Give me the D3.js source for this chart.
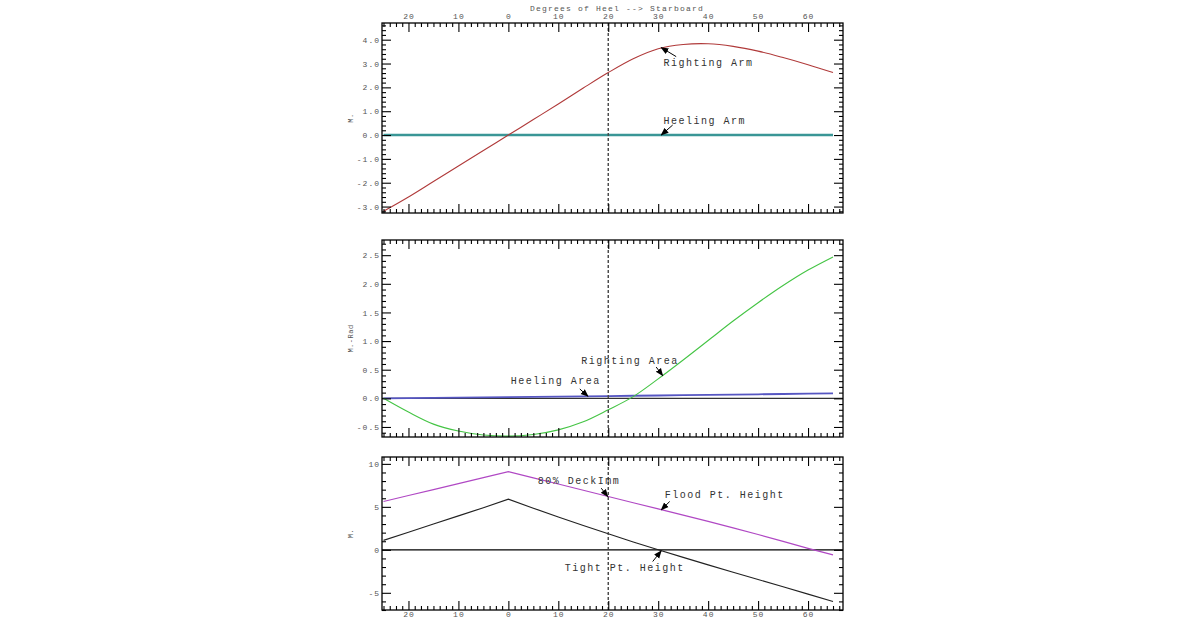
<!DOCTYPE html>
<html>
<head>
<meta charset="utf-8">
<script src="https://cdn.jsdelivr.net/npm/d3@7"></script>
<style>
  body { margin: 0; background: #fff; }
  svg { display: block; }
</style>
</head>
<body>
<div id="stability"></div>
<script>
// stability curves: arms, areas and point heights vs heel angle

// heel angle (deg), negative = port
const heel = [-25, -20, -15, -10, -5, 0, 5, 10, 15, 20, 25, 30, 35, 40, 45, 50, 55, 60, 65];

// top panel (M.)
const rightingArm = [-3.2, -2.6, -1.95, -1.3, -0.65, 0, 0.65, 1.3, 1.97, 2.62, 3.2, 3.62, 3.8, 3.83, 3.72, 3.52, 3.25, 2.95, 2.62];
const heelingArm  = [0, 0, 0, 0, 0, 0, 0, 0, 0, 0, 0, 0, 0, 0, 0, 0, 0, 0, 0];

// middle panel (M.-Rad)
const rightingArea = [0, -0.24, -0.45, -0.57, -0.64, -0.66, -0.63, -0.55, -0.41, -0.2, 0.03, 0.34, 0.67, 1.01, 1.35, 1.67, 1.97, 2.24, 2.47];
const heelingArea  = [0, 0.004, 0.008, 0.012, 0.016, 0.02, 0.024, 0.029, 0.034, 0.04, 0.045, 0.05, 0.055, 0.06, 0.066, 0.071, 0.076, 0.082, 0.087];

// bottom panel (M.)
const floodPtHeight = [5.62, 6.32, 7.0, 7.7, 8.4, 9.1, 8.38, 7.66, 6.93, 6.2, 5.48, 4.76, 4.04, 3.32, 2.55, 1.78, 0.98, 0.17, -0.58];
const tightPtHeight = [1.1, 2.05, 3.0, 3.95, 4.9, 5.9, 4.85, 3.82, 2.82, 1.86, 0.92, 0, -0.88, -1.75, -2.6, -3.45, -4.3, -5.15, -6.0];

// deck immersion angle (dashed line)
const deckImmAngle = 20;

// axis ticks
const xTicks = [-20, -10, 0, 10, 20, 30, 40, 50, 60];
const yTicksArm  = [-3, -2, -1, 0, 1, 2, 3, 4];
const yTicksArea = [-0.5, 0, 0.5, 1, 1.5, 2, 2.5];
const yTicksHgt  = [-5, 0, 5, 10];

// labels with arrows: text position and arrow tail/tip in data units
const armNotes = [
  { text: "Righting Arm", x: 31.05, y: 3.04, x1: 33.6, y1: 3.29, x2: 30.6, y2: 3.67 },
  { text: "Heeling Arm",  x: 31.05, y: 0.63, x1: 32.9, y1: 0.42, x2: 30.6, y2: 0 }
];
const areaNotes = [
  { text: "Righting Area", x: 14.6, y: 0.657, x1: 29.6, y1: 0.547, x2: 30.9, y2: 0.395 },
  { text: "Heeling Area",  x: 0.5,  y: 0.314, x1: 14.3, y1: 0.164, x2: 15.95, y2: 0.035 }
];
const hgtNotes = [
  { text: "80% DeckImm",      x: 5.9,  y: 8.02,  x1: 18.6, y1: 7.17,  x2: 19.9, y2: 6.2 },
  { text: "Flood Pt. Height", x: 31.3, y: 6.4,   x1: 32.3, y1: 5.62,  x2: 30.6, y2: 4.65 },
  { text: "Tight Pt. Height", x: 11.3, y: -2.01, x1: 28.9, y1: -1.36, x2: 30.6, y2: -0.12 }
];

const fontFamily = "'Liberation Mono', 'DejaVu Sans Mono', monospace";
const tickColor = "#555";

const width = 1200, height = 620;
const left = 382, right = 843;

const svg = d3.select("#stability")
  .append("svg")
  .attr("width", width)
  .attr("height", height);

svg.append("rect").attr("width", width).attr("height", height).attr("fill", "white");

// arrow head
svg.append("defs").append("marker")
  .attr("id", "arrow")
  .attr("viewBox", "0 0 10 10")
  .attr("refX", 9).attr("refY", 5)
  .attr("markerWidth", 8).attr("markerHeight", 8)
  .attr("markerUnits", "userSpaceOnUse")
  .attr("orient", "auto")
  .append("path")
  .attr("d", "M0,1 L10,5 L0,9 Z")
  .attr("fill", "black");

const x = d3.scaleLinear().domain([-25.3, 67]).range([left, right]);
const xMinor = d3.range(-25, 67.01, 1.25).filter(d => Math.abs(d % 10) > 1e-6);

const panels = [
  {
    top: 23, bottom: 213, domain: [-3.27, 4.7], ticks: yTicksArm, minorStep: 0.2,
    fmt: d => d.toFixed(1), label: "M.", topLabels: true, bottomLabels: false,
    zero: null,
    series: [
      { values: heelingArm, color: "#3a9696", width: 2.6, curve: d3.curveLinear },
      { values: rightingArm, color: "#b03a3a", width: 1.1, curve: d3.curveCatmullRom.alpha(0.5) }
    ],
    notes: armNotes
  },
  {
    top: 240, bottom: 437, domain: [-0.675, 2.765], ticks: yTicksArea, minorStep: 0.1,
    fmt: d => d.toFixed(1), label: "M.-Rad", topLabels: false, bottomLabels: false,
    zero: "#333",
    series: [
      { values: heelingArea, color: "#5656c2", width: 1.8, curve: d3.curveLinear },
      { values: rightingArea, color: "#44c444", width: 1.1, curve: d3.curveCatmullRom.alpha(0.5) }
    ],
    notes: areaNotes
  },
  {
    top: 457, bottom: 610, domain: [-7, 10.8], ticks: yTicksHgt, minorStep: 1,
    fmt: d => String(d), label: "M.", topLabels: false, bottomLabels: true,
    zero: "black",
    series: [
      { values: floodPtHeight, color: "#b048c4", width: 1.2, curve: d3.curveLinear },
      { values: tightPtHeight, color: "#222", width: 1.1, curve: d3.curveLinear }
    ],
    notes: hgtNotes
  }
];

panels.forEach(p => {
  const y = d3.scaleLinear().domain(p.domain).range([p.bottom, p.top]);
  const g = svg.append("g");
  const yMinor = d3.range(Math.ceil(p.domain[0] / p.minorStep) * p.minorStep, p.domain[1], p.minorStep)
    .filter(v => !p.ticks.some(t => Math.abs(t - v) < 1e-6));

  // clip for the curves
  const clipId = "clip" + p.top;
  svg.select("defs").append("clipPath").attr("id", clipId)
    .append("rect")
    .attr("x", left).attr("y", p.top)
    .attr("width", right - left).attr("height", p.bottom - p.top);

  // zero line
  if (p.zero) {
    g.append("line")
      .attr("x1", left).attr("x2", right)
      .attr("y1", y(0)).attr("y2", y(0))
      .attr("stroke", p.zero).attr("stroke-width", 1.3);
  }

  // curves
  p.series.forEach(s => {
    const line = d3.line()
      .x((d, i) => x(heel[i]))
      .y(d => y(d))
      .curve(s.curve);
    g.append("path")
      .datum(s.values)
      .attr("clip-path", `url(#${clipId})`)
      .attr("fill", "none")
      .attr("stroke", s.color)
      .attr("stroke-width", s.width)
      .attr("d", line);
  });

  // dashed deck immersion line
  g.append("line")
    .attr("x1", x(deckImmAngle)).attr("x2", x(deckImmAngle))
    .attr("y1", p.top).attr("y2", p.bottom)
    .attr("stroke", "#444").attr("stroke-width", 1.4)
    .attr("stroke-dasharray", "3,2");

  // axes: major and minor ticks on all four sides, pointing inward
  const styleAxis = sel => {
    sel.select(".domain").remove();
    sel.selectAll(".tick line").attr("stroke", "black").attr("stroke-width", 1.1);
    sel.selectAll(".tick text")
      .attr("fill", tickColor)
      .style("font-family", fontFamily)
      .style("font-size", "8px")
      .style("letter-spacing", "1px");
  };
  const xFmt = d => String(Math.abs(d));

  g.append("g").attr("transform", `translate(0,${p.bottom})`)
    .call(d3.axisBottom(x).tickValues(xTicks).tickSize(-9).tickPadding(1)
      .tickFormat(p.bottomLabels ? xFmt : ""))
    .call(styleAxis);
  g.append("g").attr("transform", `translate(0,${p.bottom})`)
    .call(d3.axisBottom(x).tickValues(xMinor).tickSize(-4).tickFormat(""))
    .call(styleAxis);
  g.append("g").attr("transform", `translate(0,${p.top})`)
    .call(d3.axisTop(x).tickValues(xTicks).tickSize(-9).tickPadding(4)
      .tickFormat(p.topLabels ? xFmt : ""))
    .call(styleAxis);
  g.append("g").attr("transform", `translate(0,${p.top})`)
    .call(d3.axisTop(x).tickValues(xMinor).tickSize(-4).tickFormat(""))
    .call(styleAxis);

  g.append("g").attr("transform", `translate(${left},0)`)
    .call(d3.axisLeft(y).tickValues(p.ticks).tickSize(-9).tickPadding(2).tickFormat(p.fmt))
    .call(styleAxis);
  g.append("g").attr("transform", `translate(${left},0)`)
    .call(d3.axisLeft(y).tickValues(yMinor).tickSize(-4).tickFormat(""))
    .call(styleAxis);
  g.append("g").attr("transform", `translate(${right},0)`)
    .call(d3.axisRight(y).tickValues(p.ticks).tickSize(-9).tickFormat(""))
    .call(styleAxis);
  g.append("g").attr("transform", `translate(${right},0)`)
    .call(d3.axisRight(y).tickValues(yMinor).tickSize(-4).tickFormat(""))
    .call(styleAxis);

  // frame
  g.append("rect")
    .attr("x", left).attr("y", p.top)
    .attr("width", right - left).attr("height", p.bottom - p.top)
    .attr("fill", "none").attr("stroke", "black").attr("stroke-width", 1.3);

  // y axis title
  g.append("text")
    .attr("transform", `translate(353,${(p.top + p.bottom) / 2}) rotate(-90)`)
    .attr("text-anchor", "middle")
    .attr("fill", tickColor)
    .style("font-family", fontFamily)
    .style("font-size", "7px")
    .style("letter-spacing", "0.5px")
    .text(p.label);

  // labels with arrows
  p.notes.forEach(n => {
    g.append("text")
      .attr("x", x(n.x)).attr("y", y(n.y))
      .attr("dy", "0.35em")
      .attr("fill", "#333")
      .style("font-family", fontFamily)
      .style("font-size", "10px")
      .style("letter-spacing", "1.5px")
      .text(n.text);
    g.append("line")
      .attr("x1", x(n.x1)).attr("y1", y(n.y1))
      .attr("x2", x(n.x2)).attr("y2", y(n.y2))
      .attr("stroke", "black").attr("stroke-width", 1)
      .attr("marker-end", "url(#arrow)");
  });
});

// top axis title
svg.append("text")
  .attr("x", 617).attr("y", 8)
  .attr("dy", "0.35em")
  .attr("text-anchor", "middle")
  .attr("fill", tickColor)
  .style("font-family", fontFamily)
  .style("font-size", "8px")
  .style("letter-spacing", "1.2px")
  .text("Degrees of Heel --> Starboard");
</script>
</body>
</html>
